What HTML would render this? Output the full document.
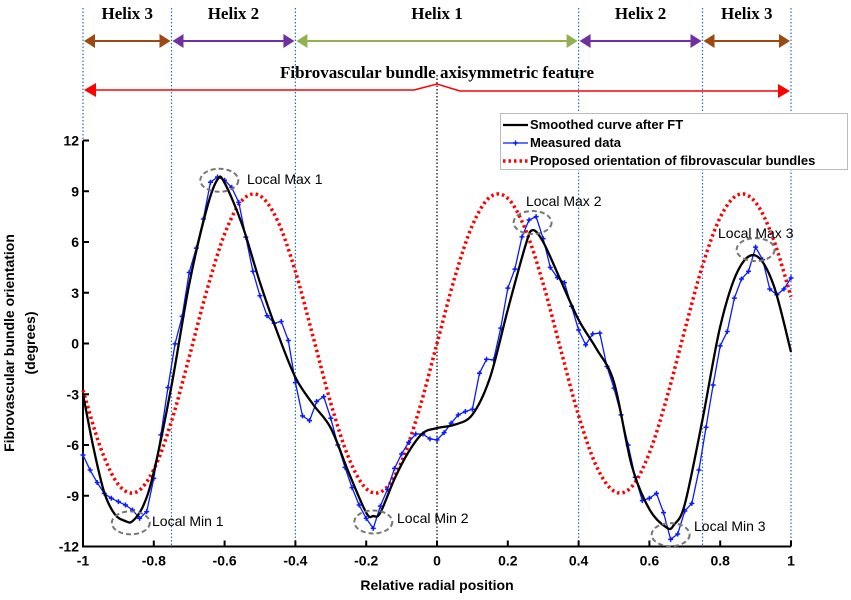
<!DOCTYPE html>
<html><head><meta charset="utf-8"><style>
html,body{margin:0;padding:0;background:#fff;}
svg{display:block;font-family:"Liberation Sans",Arial,sans-serif;}
.tk{font-size:14px;font-weight:bold;fill:#000;}
.ser{font-family:"Liberation Serif",serif;font-weight:bold;font-size:17px;}
.ann{font-size:14px;fill:#000;}
.leg{font-size:13px;font-weight:bold;}
</style></head><body>
<svg id="chart" width="851" height="600" viewBox="0 0 851 600" xmlns="http://www.w3.org/2000/svg"></svg>
<script>
const xTicks=[-1,-0.8,-0.6,-0.4,-0.2,0,0.2,0.4,0.6,0.8,1];
const xTickLabels=["-1","-0.8","-0.6","-0.4","-0.2","0","0.2","0.4","0.6","0.8","1"];
const yTicks=[-12,-9,-6,-3,0,3,6,9,12];
const yTickLabels=["-12","-9","-6","-3","0","3","6","9","12"];
const measuredX=[-1,-0.98,-0.96,-0.94,-0.92,-0.9,-0.88,-0.86,-0.84,-0.82,-0.8,-0.78,-0.76,-0.74,-0.72,-0.7,-0.68,-0.66,-0.64,-0.62,-0.6,-0.58,-0.56,-0.54,-0.52,-0.5,-0.48,-0.46,-0.44,-0.42,-0.4,-0.38,-0.36,-0.34,-0.32,-0.3,-0.28,-0.26,-0.24,-0.22,-0.2,-0.18,-0.16,-0.14,-0.12,-0.1,-0.08,-0.06,-0.04,-0.02,0,0.02,0.04,0.06,0.08,0.1,0.12,0.14,0.16,0.18,0.2,0.22,0.24,0.26,0.28,0.3,0.32,0.34,0.36,0.38,0.4,0.42,0.44,0.46,0.48,0.5,0.52,0.54,0.56,0.58,0.6,0.62,0.64,0.66,0.68,0.7,0.72,0.74,0.76,0.78,0.8,0.82,0.84,0.86,0.88,0.9,0.92,0.94,0.96,0.98,1];
const measuredY=[-6.59,-7.48,-8.22,-8.86,-9.15,-9.35,-9.55,-9.84,-10.34,-9.94,-7.97,-5.40,-2.60,-0.02,1.60,4.20,5.64,7.36,9.53,9.84,9.65,9.23,8.34,6.29,4.26,2.82,1.64,1.20,1.30,0.18,-2.31,-4.28,-4.56,-3.43,-3.14,-4.42,-6.00,-7.32,-8.52,-9.55,-10.34,-10.93,-9.61,-8.62,-7.38,-6.53,-5.84,-5.35,-5.35,-5.64,-5.70,-5.27,-4.71,-4.22,-4.02,-3.89,-1.76,-0.93,-0.97,0.91,3.27,4.4,6.3,7.3,7.5,6.2,4.5,3.9,3.6,2.2,0.8,-0.08,0.57,0.61,-1.36,-2.64,-4.22,-6.00,-7.91,-9.29,-9.15,-8.86,-10.00,-11.58,-11.26,-9.90,-9.45,-7.48,-4.95,-2.45,-0.14,0.71,2.68,3.81,4.26,5.70,4.95,3.22,2.88,3.22,3.87];
const smoothX=[-1,-0.97,-0.94,-0.91,-0.88,-0.86,-0.83,-0.8,-0.75,-0.7,-0.65,-0.62,-0.6,-0.55,-0.5,-0.45,-0.4,-0.35,-0.3,-0.25,-0.2,-0.18,-0.16,-0.12,-0.08,-0.04,0,0.05,0.1,0.15,0.2,0.25,0.27,0.3,0.35,0.4,0.45,0.5,0.55,0.6,0.65,0.67,0.7,0.75,0.8,0.85,0.9,0.95,1];
const smoothY=[-3,-6.2,-8.8,-10.1,-10.5,-10.5,-9.6,-7.6,-2.5,3.5,8.0,9.7,9.5,7.0,3.6,0.6,-2.0,-3.6,-5.0,-7.6,-10.0,-10.2,-10.0,-8.0,-6.4,-5.3,-5.0,-4.8,-4.2,-2.0,2.0,5.8,6.7,6.0,3.7,1.4,-0.3,-2.3,-7.2,-9.8,-10.9,-10.7,-9.5,-4.5,1.0,4.3,5.2,3.5,-0.5];
const proposedX=[-1,-0.95,-0.9,-0.85,-0.8,-0.75,-0.7,-0.65,-0.6,-0.55,-0.5,-0.45,-0.4,-0.35,-0.3,-0.25,-0.2,-0.15,-0.1,-0.05,0,0.05,0.1,0.15,0.2,0.25,0.3,0.35,0.4,0.45,0.5,0.55,0.6,0.65,0.7,0.75,0.8,0.85,0.9,0.95,1];
const proposedY=[-2.76,-6.19,-8.34,-8.79,-7.45,-4.60,-0.80,3.15,6.47,8.47,8.73,7.24,4.26,0.40,-3.53,-6.73,-8.58,-8.66,-6.99,-3.89,0,3.89,6.99,8.66,8.58,6.73,3.53,-0.40,-4.26,-7.24,-8.73,-8.47,-6.47,-3.15,0.80,4.60,7.45,8.79,8.34,6.19,2.76];
const helixBounds=[-1,-0.75,-0.4,0.4,0.75,1];
const helixNames=["Helix 3","Helix 2","Helix 1","Helix 2","Helix 3"];
const helixColors=["#9a4a12","#7030a0","#92b050","#7030a0","#9a4a12"];
const peaks=[[-0.615,9.65,"Local Max 1"],[-0.865,-10.6,"Local Min 1"],[-0.18,-10.55,"Local Min 2"],[0.27,7.15,"Local Max 2"],[0.66,-11.3,"Local Min 3"],[0.9,5.55,"Local Max 3"]];
const peakLabelPos=[[247,184],[152,526],[397,523],[526,206],[694,531],[718,238]];

const X0=83,X1=791,YT=140.5,YB=546.5;
function sx(v){return X0+(v+1)/2*(X1-X0);}
function sy(v){return YB-(v+12)/24*(YB-YT);}
const svg=document.getElementById('chart');
const NS="http://www.w3.org/2000/svg";
function mk(tag,attrs,parent){const e=document.createElementNS(NS,tag);for(const k in attrs)e.setAttribute(k,attrs[k]);(parent||svg).appendChild(e);return e;}
function smoothPath(xs,ys){const p=xs.map((x,i)=>[sx(x),sy(ys[i])]);let d="M"+p[0][0]+","+p[0][1];
for(let i=0;i<p.length-1;i++){const a=p[Math.max(0,i-1)],b=p[i],c=p[i+1],e=p[Math.min(p.length-1,i+2)];
d+=` C${b[0]+(c[0]-a[0])/6},${b[1]+(c[1]-a[1])/6} ${c[0]-(e[0]-b[0])/6},${c[1]-(e[1]-b[1])/6} ${c[0]},${c[1]}`;}return d;}

helixBounds.forEach(b=>{const l=mk('line',{x1:sx(b),x2:sx(b),y1:8,y2:YB,stroke:'#1f6fd0','stroke-width':1.2,'stroke-dasharray':'1.5,2'});

});
const cl=mk('line',{x1:sx(0),x2:sx(0),y1:75,y2:YB,stroke:'#000','stroke-width':1.2,'stroke-dasharray':'1.5,2'});



function arrow(xa,xb,y,col,name){const g=mk('g',{});


mk('line',{x1:xa+10,x2:xb-10,y1:y,y2:y,stroke:col,'stroke-width':2},g);
mk('polygon',{points:`${xa+1},${y} ${xa+12},${y-7} ${xa+12},${y+7}`,fill:col},g);
mk('polygon',{points:`${xb-1},${y} ${xb-12},${y-7} ${xb-12},${y+7}`,fill:col},g);return g;}
for(let i=0;i<helixNames.length;i++){const a=sx(helixBounds[i]),b=sx(helixBounds[i+1]);
arrow(a,b,41,helixColors[i],'helix-arrow');
const t=mk('text',{x:(a+b)/2,y:19,'text-anchor':'middle',class:'ser'});t.textContent=helixNames[i];

}
const rg=mk('g',{});


mk('polyline',{points:`${X0+10},90 ${sx(0)-23},90 ${sx(0)},84 ${sx(0)+23},91 ${X1-10},91`,fill:'none',stroke:'#ff0000','stroke-width':1.5},rg);
mk('polygon',{points:`${X0+1},90 ${X0+13},83 ${X0+13},97`,fill:'#ff0000'},rg);
mk('polygon',{points:`${X1-1},91 ${X1-13},84 ${X1-13},98`,fill:'#ff0000'},rg);
const ft=mk('text',{x:sx(0),y:78,'text-anchor':'middle',class:'ser'});ft.textContent="Fibrovascular bundle axisymmetric feature";



const ax=mk('g',{});


mk('line',{x1:X0,x2:X0,y1:YT,y2:YB+1,stroke:'#000','stroke-width':2},ax);
mk('line',{x1:X0-1,x2:X1,y1:YB,y2:YB,stroke:'#000','stroke-width':2},ax);
yTicks.forEach((v,i)=>{mk('line',{x1:X0,x2:X0+6,y1:sy(v),y2:sy(v),stroke:'#000','stroke-width':2},ax);
const t=mk('text',{x:X0-4,y:sy(v)+5,'text-anchor':'end',class:'tk'},ax);t.textContent=yTickLabels[i];

});
xTicks.forEach((v,i)=>{mk('line',{x1:sx(v),x2:sx(v),y1:YB,y2:YB-6,stroke:'#000','stroke-width':2},ax);
const t=mk('text',{x:sx(v),y:YB+19,'text-anchor':'middle',class:'tk'},ax);t.textContent=xTickLabels[i];

});
const xt=mk('text',{x:sx(0),y:590,'text-anchor':'middle',class:'tk'});xt.textContent="Relative radial position";


const yt=mk('text',{x:0,y:0,'text-anchor':'middle',class:'tk'});
yt.setAttribute('transform','translate(0,343) rotate(-90)');


const t1=mk('tspan',{x:0,y:14},yt);t1.textContent="Fibrovascular bundle orientation";
const t2=mk('tspan',{x:0,y:35},yt);t2.textContent="(degrees)";

const red=mk('path',{d:smoothPath(proposedX,proposedY),fill:'none',stroke:'#ff0000','stroke-width':3.5,'stroke-dasharray':'2.5,3'});


const blue=mk('polyline',{points:measuredX.map((x,i)=>sx(x)+','+sy(measuredY[i])).join(' '),fill:'none',stroke:'#0a1aff','stroke-width':1.3});


measuredX.forEach((x,i)=>{const m=mk('path',{d:`M${sx(x)-2.5},${sy(measuredY[i])}h5M${sx(x)},${sy(measuredY[i])-2.5}v5`,stroke:'#0a1aff','stroke-width':1.5});

});
const blk=mk('path',{d:smoothPath(smoothX,smoothY),fill:'none',stroke:'#000','stroke-width':2.3});



peaks.forEach((p,i)=>{const e=mk('ellipse',{cx:sx(p[0]),cy:sy(p[1]),rx:19,ry:11.5,fill:'none',stroke:'#777','stroke-width':2,'stroke-dasharray':'5,3'});


const t=mk('text',{x:peakLabelPos[i][0],y:peakLabelPos[i][1],class:'ann'});t.textContent=p[2];

});

const lg=mk('g',{});


mk('rect',{x:500.5,y:113.5,width:347,height:56,fill:'#fff',stroke:'#bbb','stroke-width':1},lg);
mk('line',{x1:503,x2:528,y1:125,y2:125,stroke:'#000','stroke-width':2.3},lg);
mk('line',{x1:503,x2:528,y1:143,y2:143,stroke:'#0a1aff','stroke-width':1.3},lg);
mk('path',{d:'M513,143h5M515.5,140.5v5',stroke:'#0a1aff','stroke-width':1.5},lg);
mk('line',{x1:503,x2:528,y1:161,y2:161,stroke:'#ff0000','stroke-width':3.5,'stroke-dasharray':'2.5,3'},lg);
[["Smoothed curve after FT",129],["Measured data",147],["Proposed orientation of fibrovascular bundles",165]].forEach(a=>{
const t=mk('text',{x:530,y:a[1],class:'leg'},lg);t.textContent=a[0];

});
</script>
</body></html>
